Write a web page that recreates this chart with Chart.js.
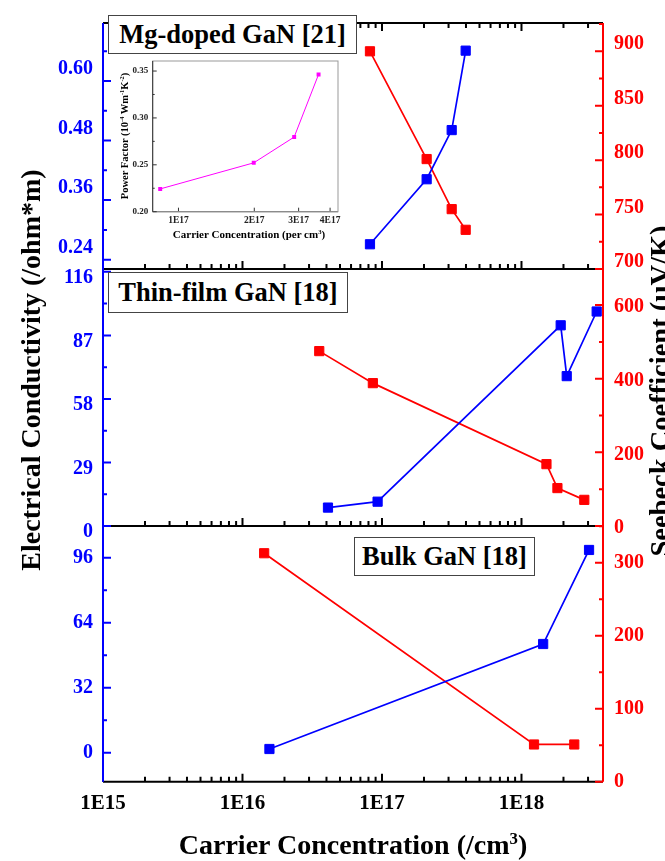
<!DOCTYPE html>
<html>
<head>
<meta charset="utf-8">
<script src="https://cdn.jsdelivr.net/npm/chart.js@4.4.0/dist/chart.umd.min.js"></script>
<style>
body { margin: 0; width: 665px; height: 861px; position: relative; background: #fff; overflow: hidden; font-family: 'Liberation Serif', serif; }
canvas { position: absolute; left: 0; top: 0; }
.lbl { position: absolute; font-weight: bold; white-space: nowrap; text-align: center; color: #000; }
.box { border: 1px solid #444; background: #fff; box-sizing: border-box; }
.rot { transform: rotate(-90deg); }
sup { font-size: 0.6em; vertical-align: 0.6em; line-height: 0; }
</style>
</head>
<body>
<canvas id="c1" width="665" height="861"></canvas>
<canvas id="c2" width="665" height="861"></canvas>
<canvas id="c3" width="665" height="861"></canvas>
<canvas id="c4" width="665" height="861"></canvas>

<div class="lbl box" style="left:108px;top:15px;width:249px;height:39px;font-size:26.5px;line-height:37px;">Mg-doped GaN [21]</div>
<div class="lbl box" style="left:108px;top:272px;width:240px;height:41px;font-size:26.5px;line-height:39px;">Thin-film GaN [18]</div>
<div class="lbl box" style="left:354px;top:537px;width:181px;height:39px;font-size:26.5px;line-height:37px;">Bulk GaN [18]</div>

<div class="lbl rot" style="left:-189px;top:353px;width:440px;height:34px;font-size:28px;line-height:34px;">Electrical Conductivity (/ohm*m)</div>
<div class="lbl rot" style="left:441px;top:374px;width:440px;height:34px;font-size:28.5px;line-height:34px;">Seebeck Coefficient (μV/K)</div>
<div class="lbl" style="left:103px;top:828px;width:500px;height:34px;font-size:28px;line-height:34px;">Carrier Concentration (/cm<sup>3</sup>)</div>

<div class="lbl" style="left:149px;top:227px;width:200px;height:14px;font-size:11px;line-height:14px;">Carrier Concentration (per cm<sup>3</sup>)</div>
<div class="lbl rot" style="left:45px;top:129px;width:160px;height:14px;font-size:10.5px;line-height:14px;">Power Factor (10<sup>-4</sup> Wm<sup>-1</sup>K<sup>-2</sup>)</div>

<script>
// carrier concentration axis (per cm^3)
const xDecades = [1e15, 1e16, 1e17, 1e18];

// Mg-doped GaN [21]
const mgConc = [8.2e16, 2.09e17, 3.16e17, 3.98e17];
const mgSigma = [0.271, 0.402, 0.501, 0.661];
const mgSeebeck = [900, 801, 755, 736];

// Thin-film GaN [18]
const thinSigmaConc = [4.1e16, 9.3e16, 1.91e18, 2.11e18, 3.46e18];
const thinSigma = [8.4, 11.1, 91.6, 68.4, 97.9];
const thinSeebeckConc = [3.55e16, 8.6e16, 1.51e18, 1.81e18, 2.82e18];
const thinSeebeck = [475, 388, 168, 103, 71];

// Bulk GaN [18]
const bulkSigmaConc = [1.56e16, 1.43e18, 3.05e18];
const bulkSigma = [1.8, 53.5, 99.8];
const bulkSeebeckConc = [1.43e16, 1.23e18, 2.39e18];
const bulkSeebeck = [313, 51, 51];

// inset: power factor of Mg-doped GaN
const insetTicks = [1e17, 2e17, 3e17, 4e17];
const insetConc = [8.46e16, 1.99e17, 2.88e17, 3.6e17];
const insetPF = [0.2243, 0.2521, 0.2796, 0.3464];

const FONT = 'Liberation Serif';
const BLUE = '#0000ff', RED = '#ff0000', MAGENTA = '#ff00ff';
Chart.defaults.font.family = FONT;

const pts = (xs, ys) => xs.map((x, i) => ({ x: x, y: ys[i] }));
const sciLabel = v => {
  const e = Math.floor(Math.log10(v) + 1e-9);
  return Math.round(v / Math.pow(10, e)) + 'E' + e;
};

// axis lines, inward ticks (major + minor) and x labels, all placed through the chart's scales
const axesFrame = {
  id: 'axesFrame',
  beforeDatasetsDraw(chart, args, o) {
    const { ctx, chartArea: a, scales } = chart;
    ctx.save();
    ctx.lineWidth = o.lw;
    ctx.lineCap = 'butt';

    // x axis
    const xs = scales.x;
    const xt = xs.ticks.map(t => [t.value, o.xMajor]);
    if (o.xMinor > 0) {
      for (let e = Math.floor(Math.log10(xs.min)); e <= Math.ceil(Math.log10(xs.max)); e++) {
        for (let m = 2; m <= 9; m++) {
          const v = m * Math.pow(10, e);
          if (v >= xs.min && v <= xs.max) xt.push([v, o.xMinor]);
        }
      }
    }
    ctx.strokeStyle = o.xColor;
    ctx.beginPath();
    xt.forEach(([v, len]) => {
      const px = xs.getPixelForValue(v);
      ctx.moveTo(px, a.bottom); ctx.lineTo(px, a.bottom - len);
      if (o.top) { ctx.moveTo(px, a.top); ctx.lineTo(px, a.top + len); }
    });
    ctx.moveTo(a.left, a.bottom); ctx.lineTo(a.right, a.bottom);
    if (o.top) { ctx.moveTo(a.left, a.top); ctx.lineTo(a.right, a.top); }
    ctx.stroke();

    if (o.frame) {
      ctx.strokeStyle = o.frame;
      ctx.lineWidth = 1;
      ctx.strokeRect(a.left, a.top, a.right - a.left, a.bottom - a.top);
      ctx.lineWidth = o.lw;
    }

    if (o.xLabel) {
      ctx.fillStyle = o.xLabel.color;
      ctx.font = 'bold ' + o.xLabel.size + 'px "' + FONT + '"';
      ctx.textAlign = 'center';
      ctx.textBaseline = 'middle';
      xs.ticks.forEach(t => {
        ctx.fillText(sciLabel(t.value), xs.getPixelForValue(t.value), a.bottom + o.xLabel.dy);
      });
    }

    // y axes
    ['y', 'y2'].forEach(id => {
      const s = scales[id];
      if (!s) return;
      const left = s.options.position === 'left';
      const x0 = left ? a.left : a.right;
      const dir = left ? 1 : -1;
      const majors = s.ticks.map(t => t.value);
      const step = o.minor[id];
      ctx.strokeStyle = o.yColor[id];
      ctx.beginPath();
      for (let i = Math.ceil(s.min / step - 1e-9); i <= Math.floor(s.max / step + 1e-9); i++) {
        const v = i * step;
        const isMajor = majors.some(m => Math.abs(m - v) < step * 1e-3);
        const py = s.getPixelForValue(v);
        ctx.moveTo(x0, py); ctx.lineTo(x0 + dir * (isMajor ? o.yMajor : o.yMinor), py);
      }
      ctx.moveTo(x0, a.top); ctx.lineTo(x0, a.bottom);
      ctx.stroke();
    });
    ctx.restore();
  }
};

const X_MIN = 1e15, X_MAX = 3.84e18;

function yAxis(pos, min, max, step, color, offset, fmt) {
  return {
    position: pos, min: min, max: max,
    afterFit: s => { s.width = pos === 'left' ? 103 : 62; },
    grid: { display: false, drawTicks: false },
    border: { display: false },
    ticks: {
      stepSize: step, includeBounds: false, padding: pos === 'left' ? 10 : 11,
      labelOffset: offset, color: color,
      font: { family: FONT, weight: 'bold', size: 20 },
      callback: fmt
    }
  };
}

function line(data, axis, color) {
  return {
    data: data, yAxisID: axis, borderColor: color, backgroundColor: color,
    borderWidth: 1.7, pointStyle: 'rect', pointRadius: 6.5, pointBorderWidth: 1,
    pointBorderColor: color, tension: 0
  };
}

function makePanel(id, top, bottom, datasets, left, right, showX, topLine) {
  return new Chart(document.getElementById(id), {
    type: 'line',
    data: { datasets: datasets },
    options: {
      responsive: false, animation: false,
      layout: { padding: { top: top, bottom: 861 - bottom, left: 0, right: 0 } },
      plugins: {
        legend: { display: false }, tooltip: { enabled: false },
        axesFrame: {
          lw: 2, xColor: '#000', top: topLine, xMajor: 8, xMinor: 5, yMajor: 8, yMinor: 4,
          yColor: { y: BLUE, y2: RED }, minor: { y: left.minor, y2: right.minor },
          xLabel: showX ? { size: 21, color: '#000', dy: 22 } : null
        }
      },
      scales: {
        x: {
          type: 'logarithmic', min: X_MIN, max: X_MAX,
          afterFit: s => { s.height = 0; },
          afterBuildTicks: s => { s.ticks = xDecades.map(v => ({ value: v })); },
          grid: { display: false, drawTicks: false },
          border: { display: false },
          ticks: { display: false, autoSkip: false }
        },
        y: yAxis('left', left.min, left.max, left.step, BLUE, left.offset, left.fmt),
        y2: yAxis('right', right.min, right.max, right.step, RED, right.offset, right.fmt)
      }
    },
    plugins: [axesFrame]
  });
}

const intFmt = v => Math.round(v).toString();

makePanel('c1', 13, 269, [
  line(pts(mgConc, mgSigma), 'y', BLUE),
  line(pts(mgConc, mgSeebeck), 'y2', RED)
], { min: 0.2212, max: 0.7167, step: 0.12, minor: 0.06, offset: -12, fmt: v => v.toFixed(2) },
   { min: 700, max: 926, step: 50, minor: 25, offset: -7, fmt: intFmt }, false, true);

makePanel('c2', 269, 526, [
  line(pts(thinSigmaConc, thinSigma), 'y', BLUE),
  line(pts(thinSeebeckConc, thinSeebeck), 'y2', RED)
], { min: 0, max: 117.3, step: 29, minor: 14.5, offset: 6, fmt: intFmt },
   { min: 0, max: 698, step: 200, minor: 100, offset: 2, fmt: intFmt }, false, false);

makePanel('c3', 526, 781.7, [
  line(pts(bulkSigmaConc, bulkSigma), 'y', BLUE),
  line(pts(bulkSeebeckConc, bulkSeebeck), 'y2', RED)
], { min: -14.3, max: 111.6, step: 32, minor: 16, offset: 0, fmt: intFmt },
   { min: 0, max: 350.3, step: 100, minor: 50, offset: 0, fmt: intFmt }, true, false);

// inset
new Chart(document.getElementById('c4'), {
  type: 'line',
  data: {
    datasets: [{
      data: pts(insetConc, insetPF), yAxisID: 'y', borderColor: MAGENTA, backgroundColor: MAGENTA,
      borderWidth: 1, pointStyle: 'rect', pointRadius: 2.8, pointBorderWidth: 0, tension: 0
    }]
  },
  options: {
    responsive: false, animation: false,
    layout: { padding: { top: 61, bottom: 861 - 211.7, left: 0, right: 665 - 338 } },
    plugins: {
      legend: { display: false }, tooltip: { enabled: false },
      axesFrame: {
        lw: 1, xColor: '#333', top: false, frame: '#999', xMajor: 4, xMinor: 0, yMajor: 4, yMinor: 2,
        yColor: { y: '#333' }, minor: { y: 0.025 },
        xLabel: { size: 9.5, color: '#222', dy: 9 }
      }
    },
    scales: {
      x: {
        type: 'logarithmic', min: 7.9e16, max: 4.3e17,
        afterFit: s => { s.height = 0; },
        afterBuildTicks: s => { s.ticks = insetTicks.map(v => ({ value: v })); },
        grid: { display: false, drawTicks: false },
        border: { display: false },
        ticks: { display: false, autoSkip: false }
      },
      y: {
        position: 'left', min: 0.2, max: 0.3607,
        afterFit: s => { s.width = 152.7; },
        grid: { display: false, drawTicks: false },
        border: { display: false },
        ticks: {
          stepSize: 0.05, includeBounds: false, padding: 4.5, color: '#222',
          font: { family: FONT, weight: 'bold', size: 9 },
          callback: v => v.toFixed(2)
        }
      }
    }
  },
  plugins: [axesFrame]
});
</script>
</body>
</html>
